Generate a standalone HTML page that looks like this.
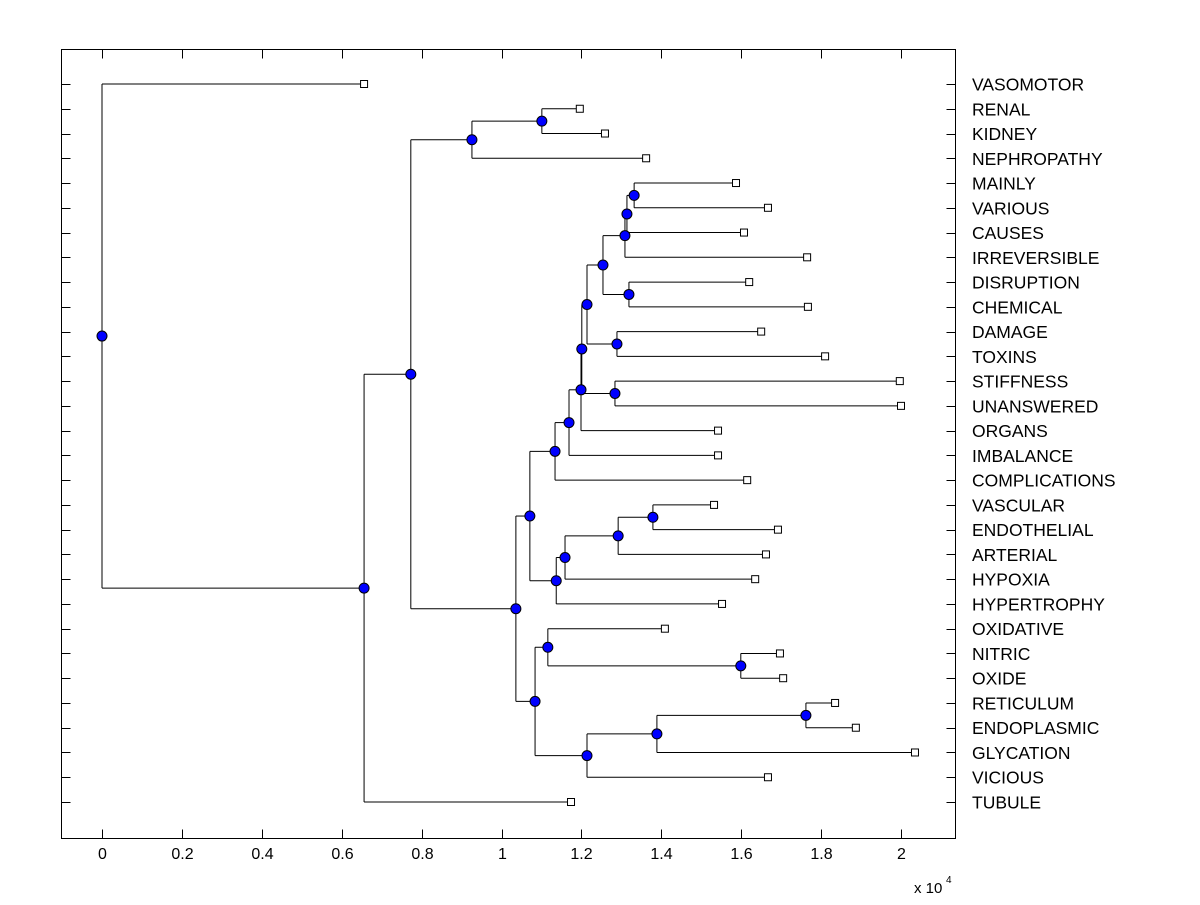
<!DOCTYPE html>
<html><head><meta charset="utf-8"><style>
body{margin:0;background:#fff;}
svg text{font-family:"Liberation Sans",Arial,sans-serif;}
</style></head><body>
<svg id="chart" width="1200" height="900" xmlns="http://www.w3.org/2000/svg">
<rect x="0" y="0" width="1200" height="900" fill="#fff"/>
<g id="marks"></g>
<g id="axes"></g>
</svg>
<script>
const leafNames = ["VASOMOTOR","RENAL","KIDNEY","NEPHROPATHY","MAINLY","VARIOUS","CAUSES","IRREVERSIBLE","DISRUPTION","CHEMICAL","DAMAGE","TOXINS","STIFFNESS","UNANSWERED","ORGANS","IMBALANCE","COMPLICATIONS","VASCULAR","ENDOTHELIAL","ARTERIAL","HYPOXIA","HYPERTROPHY","OXIDATIVE","NITRIC","OXIDE","RETICULUM","ENDOPLASMIC","GLYCATION","VICIOUS","TUBULE"];
const leafValues = [0.656,1.196,1.259,1.362,1.587,1.667,1.607,1.765,1.620,1.767,1.650,1.810,1.997,2.0,1.542,1.542,1.615,1.532,1.692,1.662,1.635,1.552,1.409,1.697,1.705,1.835,1.887,2.035,1.667,1.174];
// internal nodes: id = 30 + index; children reference leaf index (<30) or node id
const nodeValues = [1.101,0.926,1.332,1.314,1.309,1.319,1.254,1.289,1.214,1.284,1.201,1.199,1.169,1.134,1.379,1.292,1.159,1.137,1.071,1.599,1.116,1.762,1.389,1.214,1.084,1.036,0.773,0.656,0];
const nodeLeft  = [1,30,4,32,33,8,34,10,36,12,38,40,41,42,17,44,45,46,43,23,22,25,51,52,50,48,31,56,0];
const nodeRight = [2,3,5,6,7,9,35,11,37,13,39,14,15,16,18,19,20,21,47,24,49,26,27,28,53,54,55,29,57];
const xTicks = [0,0.2,0.4,0.6,0.8,1,1.2,1.4,1.6,1.8,2];
const xTickLabels = ["0","0.2","0.4","0.6","0.8","1","1.2","1.4","1.6","1.8","2"];

const NS="http://www.w3.org/2000/svg";
const L=61.5,R=955.5,T=49.5,B=838.5;
const xs=v=>102+v*399.5;
const ys=i=>84+i*(802-84)/29;
const marks=document.getElementById('marks'), axes=document.getElementById('axes');
function mk(tag,attrs,parent){const e=document.createElementNS(NS,tag);for(const k in attrs)e.setAttribute(k,attrs[k]);parent.appendChild(e);return e;}
const pos={};
leafNames.forEach((n,i)=>{pos[i]={x:xs(leafValues[i]),y:ys(i)};});
function getPos(id){
  if(id<30) return pos[id];
  const j=id-30;
  if(!pos[id]){const a=getPos(nodeLeft[j]),b=getPos(nodeRight[j]);pos[id]={x:xs(nodeValues[j]),y:(a.y+b.y)/2};}
  return pos[id];
}
nodeValues.forEach((v,j)=>{
  const p=getPos(30+j),a=getPos(nodeLeft[j]),b=getPos(nodeRight[j]);
  let l=mk('line',{x1:p.x,y1:a.y,x2:p.x,y2:b.y,stroke:'#000','stroke-width':1},marks);
  
  
  [a,b].forEach(c=>{
    let h=mk('line',{x1:p.x,y1:c.y,x2:c.x,y2:c.y,stroke:'#000','stroke-width':1},marks);
    
    
  });
});
leafNames.forEach((n,i)=>{
  const p=pos[i];
  let s=mk('rect',{x:p.x-3.5,y:p.y-3.5,width:7,height:7,fill:'#fff',stroke:'#000','stroke-width':1},marks);
  
  
  let t=mk('text',{x:972,y:p.y+6.5,'font-size':17.5,fill:'#000'},axes);
  t.textContent=n;
  
  
  let tl=mk('line',{x1:L,y1:Math.round(p.y)+0.5,x2:L+9,y2:Math.round(p.y)+0.5,stroke:'#000'},axes);
  
  
  let tr=mk('line',{x1:R-9,y1:Math.round(p.y)+0.5,x2:R,y2:Math.round(p.y)+0.5,stroke:'#000'},axes);
  
  
});
nodeValues.forEach((v,j)=>{
  const p=pos[30+j];
  let c=mk('circle',{cx:p.x,cy:p.y,r:5,fill:'#0000ff',stroke:'#000','stroke-width':1},marks);
  
  
});
let box=mk('rect',{x:L,y:T,width:R-L,height:B-T,fill:'none',stroke:'#000','stroke-width':1},axes);


xTicks.forEach((v,i)=>{
  const x=Math.round(xs(v))+0.5;
  let a=mk('line',{x1:x,y1:B,x2:x,y2:B-9,stroke:'#000'},axes);
  
  
  let b=mk('line',{x1:x,y1:T,x2:x,y2:T+9,stroke:'#000'},axes);
  
  
  let t=mk('text',{x:x,y:859,'font-size':16,'text-anchor':'middle'},axes);
  t.textContent=xTickLabels[i];
  
  
});
let ex=mk('text',{x:914,y:893,'font-size':15},axes);
ex.textContent='x 10';


let ep=mk('text',{x:946,y:883,'font-size':10},axes);
ep.textContent='4';


</script>
</body></html>
